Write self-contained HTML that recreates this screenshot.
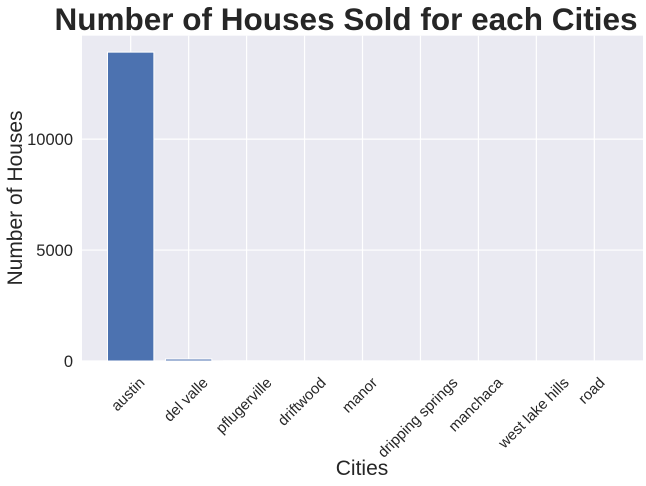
<!DOCTYPE html>
<html><head><meta charset="utf-8"><style>
body{margin:0;background:#fff}
svg{display:block;font-family:"Liberation Sans","DejaVu Sans",sans-serif}
</style></head><body>
<svg id="chart" width="646" height="486" xmlns="http://www.w3.org/2000/svg">
<text x="346" y="30" text-anchor="middle" font-size="31.5" font-weight="bold" fill="#262626" textLength="583" lengthAdjust="spacingAndGlyphs">Number of Houses Sold for each Cities</text>
<rect x="82" y="35.7" width="561" height="325.3" fill="#eaeaf2"/>
<g id="grid"></g><g id="bars"></g><g id="ticks"></g>
<text x="362" y="475" text-anchor="middle" font-size="21" fill="#262626">Cities</text>
<text transform="translate(22,198) rotate(-90)" text-anchor="middle" font-size="21" fill="#262626">Number of Houses</text>
</svg>
<script>
const categories=["austin","del valle","pflugerville","driftwood","manor","dripping springs","manchaca","west lake hills","road"];
const values=[13919,90,10,5,5,3,3,2,1];
const yTicks=[0,5000,10000];
const ns="http://www.w3.org/2000/svg";
const L=82,R=643,T=35.7,B=361;
const xmin=-0.84,xmax=8.84,ymax=14660;
const xs=v=>L+(v-xmin)/(xmax-xmin)*(R-L);
const ys=v=>B-v/ymax*(B-T);
function mk(t,a,p){const e=document.createElementNS(ns,t);for(const k in a)e.setAttribute(k,a[k]);p.appendChild(e);return e;}
const grid=document.getElementById('grid'),bars=document.getElementById('bars'),ticks=document.getElementById('ticks');
yTicks.forEach(v=>{
 const l=mk('line',{x1:L,x2:R,y1:ys(v),y2:ys(v),stroke:'#fff','stroke-width':1.2},grid);
 
 
 const t=mk('text',{x:L-9,y:ys(v)+6,'text-anchor':'end','font-size':16.5,fill:'#262626'},ticks);
 t.textContent=v;
 
 
});
const FS=15;
categories.forEach((c,i)=>{
 const x=xs(i);
 const l=mk('line',{x1:x,x2:x,y1:T,y2:B,stroke:'#fff','stroke-width':1.2},grid);
 
 
 const w=xs(0.4)-xs(-0.4);
 const y=ys(values[i]);
 const r=mk('rect',{x:x-w/2,y:y,width:w,height:Math.max(B-y,0),fill:'#4c72b0',stroke:'#fff','stroke-width':1},bars);
 
 
 const t=mk('text',{'text-anchor':'middle','font-size':FS,fill:'#262626'},ticks);
 t.textContent=c;
 
 
 const len=t.getComputedTextLength();
 const h=(len+FS*1.1)*0.7071;
 const cy=B+13+h/2;
 const cx=x-3;
 t.setAttribute('x',cx);
 t.setAttribute('y',cy+FS*0.35);
 t.setAttribute('transform',`rotate(-45 ${cx} ${cy})`);
});
</script>
</body></html>
